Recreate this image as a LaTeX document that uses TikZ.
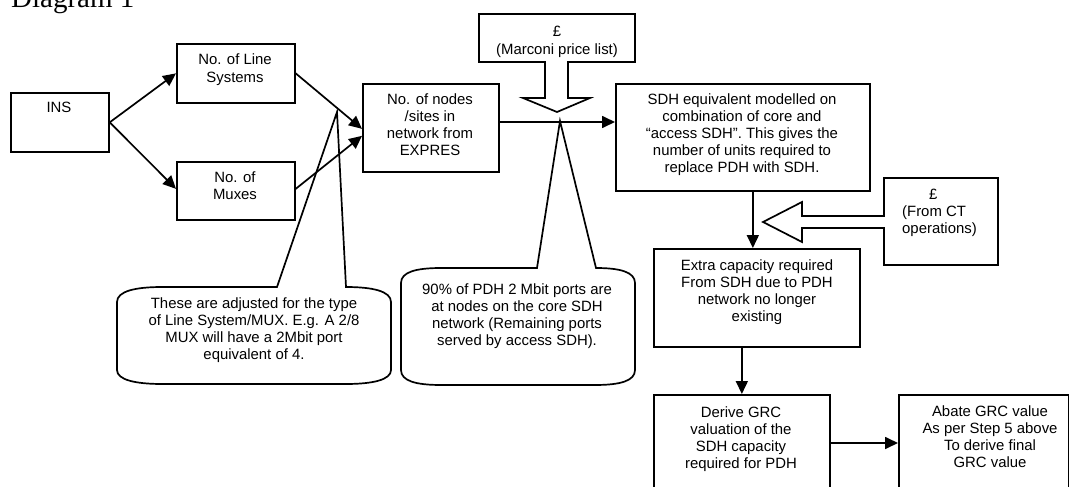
\documentclass[tikz,border=0pt]{standalone}
\usepackage{fontspec}
\setmainfont{Liberation Sans}
\newfontfamily\titlefont{Liberation Serif}
\usetikzlibrary{arrows.meta,calc}

\begin{document}
\begin{tikzpicture}[x=1pt,y=-1pt,
  box/.style={draw, line width=1.7pt, inner sep=0pt, anchor=north west},
  txt/.style={font=\fontsize{14.9}{17.2}\selectfont, align=center, inner sep=0pt, anchor=base},
  link/.style={line width=1.7pt, -{Triangle[length=13pt,width=12pt]}},
  outline/.style={draw, line width=1.7pt, line join=miter},
]
\useasboundingbox (0,0) rectangle (1069,487);
\clip (0,0) rectangle (1069,487);

% title
\node[font=\titlefont\fontsize{29}{34}\selectfont, inner sep=0pt, anchor=base west] (title) at (11,8) {Diagram 1};

% process boxes
\node[box, minimum width=98pt,  minimum height=59pt]  (ins)    at (10,92)  {};
\node[box, minimum width=118pt, minimum height=59pt]  (ls)     at (176,43) {};
\node[box, minimum width=118pt, minimum height=58pt]  (mux)    at (176,161) {};
\node[box, minimum width=136pt, minimum height=88pt]  (nodes)  at (362,83) {};
\node[box, minimum width=254pt, minimum height=107pt] (sdh)    at (615,83) {};
\node[box, minimum width=206pt, minimum height=98pt]  (extra)  at (653,248) {};
\node[box, minimum width=176pt, minimum height=110pt] (derive) at (653,394) {};
\node[box, minimum width=170pt, minimum height=110pt] (abate)  at (898,394) {};

% box texts (each placed at the baseline of its last line)
\node[txt] (insT)    at (59,113)    {INS};
\node[txt] (lsT)     at (235,82.2)  {No. of Line\\Systems};
\node[txt] (muxT)    at (235,199.2) {No. of\\Muxes};
\node[txt] (nodesT)  at (430,155.6) {No. of nodes\\/sites in\\network from\\EXPRES};
\node[txt] (sdhT)    at (742,172.8) {SDH equivalent modelled on\\combination of core and\\“access SDH”. This gives the\\number of units required to\\replace PDH with SDH.};
\node[txt] (extraT)  at (757,321.6) {Extra capacity required\\From SDH due to PDH\\network no longer\\existing};
\node[txt] (deriveT) at (741,468.6) {Derive GRC\\valuation of the\\SDH capacity\\required for PDH};
\node[txt] (abateT)  at (990,467.6) {Abate GRC value\\As per Step 5 above\\To derive final\\GRC value};

% flow connectors
\coordinate (lvlA) at (0,122);
\coordinate (lvlB) at (0,443);
\draw[link] (ins.east) -- (ls.west);
\draw[link] (ins.east) -- ($(mux.west)+(0,-2)$);
\draw[link] (ls.east) -- ($(nodes.west)+(0,1)$);
\draw[link] ($(mux.east)+(0,-2)$) -- ($(nodes.west)+(0,8)$);
\draw[link] (nodes.east |- lvlA) -- (sdh.west |- lvlA);
\draw[link] ($(sdh.south)+(10,0)$) -- ($(extra.north)+(-4,0)$);
\draw[link] (derive.north |- extra.south) -- (derive.north);
\draw[link] (derive.east |- lvlB) -- (abate.west |- lvlB);

% price input: down-arrow callout
\coordinate (mtip) at (557,112);
\draw[outline] (479,14) -- (635,14) -- (635,62) -- (568,62) -- (568,98) -- (590,98)
  -- (mtip) -- (523,98) -- (545,98) -- (545,62) -- (479,62) -- cycle;
\node[txt] (marconiT) at (557,54.2) {£\\(Marconi price list)};

% cost input: left-arrow callout
\coordinate (ctip) at (763,222);
\draw[outline] (884,178) -- (998,178) -- (998,265) -- (884,265) -- (884,228) -- (802,228)
  -- (802,242) -- (ctip) -- (802,202) -- (802,216) -- (884,216) -- cycle;
\node[txt, align=left, anchor=base west] (ctT) at (902,233.4) {\hspace{27pt}£\\(From CT\\operations)};

% note on line systems and muxes
\coordinate (ntipA) at (337,112);
\draw[outline] (277,287) -- (ntipA) -- (346,287)
  .. controls (372,287) and (391,291) .. (391,302) -- (391,370)
  .. controls (391,380) and (372,384) .. (346,384) -- (162,384)
  .. controls (136,384) and (117,380) .. (117,370) -- (117,302)
  .. controls (117,291) and (136,287) .. (162,287) -- cycle;
\node[txt] (noteA) at (254,359.6) {These are adjusted for the type\\of Line System/MUX. E.g. A 2/8\\MUX will have a 2Mbit port\\equivalent of 4.};

% note on core SDH share
\coordinate (ntipB) at (560,121);
\draw[outline] (537,268) -- (ntipB) -- (596,268)
  .. controls (620,268) and (635,272) .. (635,283) -- (635,370)
  .. controls (635,381) and (620,385) .. (595,385) -- (441,385)
  .. controls (416,385) and (401,381) .. (401,370) -- (401,283)
  .. controls (401,272) and (416,268) .. (441,268) -- cycle;
\node[txt] (noteB) at (517,345.6) {90\% of PDH 2 Mbit ports are\\at nodes on the core SDH\\network (Remaining ports\\served by access SDH).};
\end{tikzpicture}
\end{document}
